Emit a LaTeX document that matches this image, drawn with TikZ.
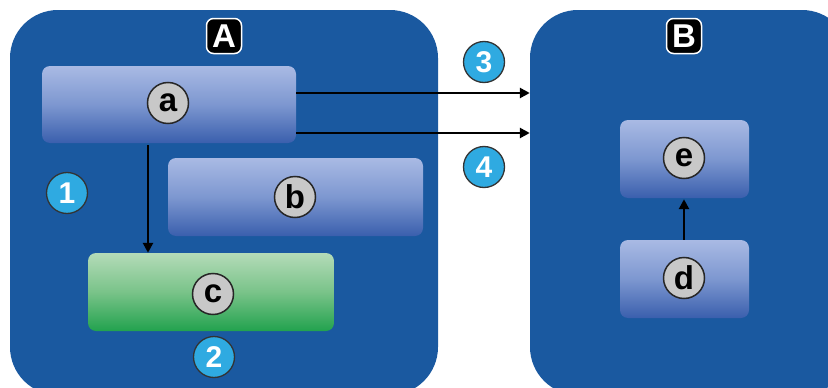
\documentclass[tikz,border=0pt]{standalone}
\usepackage{fontspec}
\setmainfont{Liberation Sans}
\usetikzlibrary{arrows.meta}
\definecolor{contblue}{HTML}{1A59A0}
\definecolor{boxtop}{HTML}{A9BAE4}
\definecolor{boxmid}{HTML}{7D97D0}
\definecolor{boxbot}{HTML}{3A5FAD}
\definecolor{grntop}{HTML}{B4DBB8}
\definecolor{grnmid}{HTML}{79C389}
\definecolor{grnbot}{HTML}{22A24E}
\definecolor{lblgray}{HTML}{C8C8C8}
\definecolor{numcyan}{HTML}{2FAAE1}
\tikzset{
  container/.style={fill=contblue, draw=none, rounded corners=48pt, inner sep=0pt},
  bluebox/.style={rounded corners=8pt, inner sep=0pt, top color=boxtop, bottom color=boxbot, middle color=boxmid},
  greenbox/.style={rounded corners=8pt, inner sep=0pt, top color=grntop, bottom color=grnbot, middle color=grnmid},
  letterc/.style={circle, fill=lblgray, draw=black!85, line width=1.5pt, minimum size=41pt, inner sep=0pt, font=\fontsize{33}{33}\selectfont\bfseries},
  numc/.style={circle, fill=numcyan, draw=black!80, line width=1.3pt, minimum size=41pt, inner sep=0pt, text=white, font=\fontsize{30}{30}\selectfont\bfseries},
  tag/.style={fill=black, draw=white, line width=1.5pt, rounded corners=7pt, minimum size=35pt, inner sep=0pt, text=white, font=\fontsize{33}{33}\selectfont\bfseries},
  arr/.style={-{Triangle[length=10pt,width=10pt]}, line width=2.6pt, black}
}
\begin{document}
\begin{tikzpicture}[x=1pt,y=-1pt]
\useasboundingbox (0,0) rectangle (828,388);
\clip (0,0) rectangle (828,388);
\fill[white] (0,0) rectangle (828,388);
% containers
\node[container, minimum width=428pt, minimum height=385pt] (A) at (224,202.5) {};
\node[container, minimum width=320pt, minimum height=385pt] (B) at (690,202.5) {};
\node[tag] (tA) at (224,36) {A};
\node[tag] (tB) at (684,36) {B};
% boxes
\node[bluebox, minimum width=254pt, minimum height=77pt] (a) at (169,104.5) {};
\node[bluebox, minimum width=255pt, minimum height=78pt] (b) at (295.5,197) {};
\node[greenbox, minimum width=246pt, minimum height=78pt] (c) at (211,292) {};
\node[bluebox, minimum width=129pt, minimum height=78pt] (e) at (684.5,159) {};
\node[bluebox, minimum width=129pt, minimum height=78pt] (d) at (684.5,279) {};
% letter circles
\node[letterc] (la) at (168,103) {a};
\node[letterc] (lb) at (295,197) {b};
\node[letterc] (lc) at (213,294) {c};
\node[letterc] (le) at (684,158) {e};
\node[letterc] (ld) at (684,278) {d};
% number circles
\node[numc] (n1) at (67,193) {1};
\node[numc] (n2) at (214,357) {2};
\node[numc] (n3) at (484,62) {3};
\node[numc] (n4) at (484,167) {4};
% arrows
\draw[arr] ([xshift=-21pt,yshift=-2pt]a.south) -- ([xshift=-21pt]a.south |- c.north);
\draw[arr] ([yshift=11.5pt]a.east) -- ([yshift=11.5pt]a.east -| B.west);
\draw[arr] ([yshift=-28.5pt]a.east) -- ([yshift=-28.5pt]a.east -| B.west);
\draw[arr] ([xshift=-0.5pt]d.north) -- ([xshift=-0.5pt,yshift=-1pt]e.south);
\end{tikzpicture}
\end{document}
